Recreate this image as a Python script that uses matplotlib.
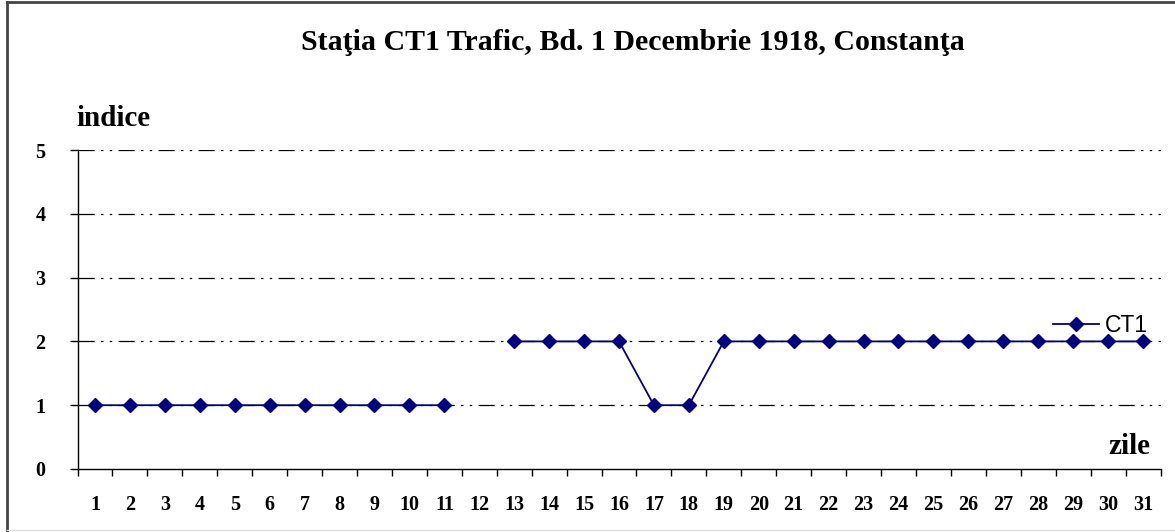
import numpy as np
import matplotlib.pyplot as plt
from matplotlib.lines import Line2D

days = np.arange(1, 32)
ct1 = [1, 1, 1, 1, 1, 1, 1, 1, 1, 1, 1, np.nan,
       2, 2, 2, 2, 1, 1, 2, 2, 2, 2, 2, 2, 2, 2, 2, 2, 2, 2, 2]
yticks = [0, 1, 2, 3, 4, 5]

serif = 'Liberation Serif'
navy = '#000080'

fig = plt.figure(figsize=(11.75, 5.32), dpi=100)
ax = fig.add_axes([77.5 / 1175, 1 - 469 / 532, 1083 / 1175, 319 / 532])

# grid lines (dash-dot-dot)
for v in yticks[1:]:
    ax.axhline(v, color='black', lw=0.9, dashes=(13, 5, 2, 5, 2, 5), zorder=1)

ax.plot(days, ct1, color=navy, lw=1.3, marker='D', markersize=7.5,
        markerfacecolor=navy, markeredgecolor=navy, zorder=3, label='CT1')

ax.set_xlim(0.5, 31.5)
ax.set_ylim(0, 5)
ax.set_xticks(np.arange(0.5, 32, 1))
ax.set_xticklabels([])
ax.set_xticks(days, minor=True)
ax.set_xticklabels([str(d) for d in days], minor=True, fontfamily=serif,
                   fontweight='bold', fontsize=14.5)
ax.tick_params(axis='x', which='major', length=5, width=1, direction='out')
ax.tick_params(axis='x', which='minor', length=0, pad=19)
ax.set_yticks(yticks)
ax.set_yticklabels([str(v) for v in yticks], fontfamily=serif,
                   fontweight='bold', fontsize=14.5)
ax.tick_params(axis='y', length=6, width=1, direction='out', pad=17)

for s in ['top', 'right']:
    ax.spines[s].set_visible(False)
ax.spines['left'].set_linewidth(1)
ax.spines['bottom'].set_linewidth(1)

fig.text(633 / 1175, 1 - 42 / 532, 'Staţia CT1 Trafic, Bd. 1 Decembrie 1918, Constanţa',
         ha='center', va='center', fontfamily=serif, fontweight='bold', fontsize=21.5)
fig.text(76 / 1175, 1 - 118 / 532, 'indice', ha='left', va='center',
         fontfamily=serif, fontweight='bold', fontsize=21)
fig.text(1150 / 1175, 1 - 447 / 532, 'zile', ha='right', va='center',
         fontfamily=serif, fontweight='bold', fontsize=21)

ax.legend(loc='center left', bbox_to_anchor=((1053 - 77.5) / 1083, (469 - 326) / 319),
          frameon=False, handlelength=2.0, handletextpad=0.25, borderpad=0,
          borderaxespad=0, prop={'family': 'Liberation Sans', 'size': 16.5})

# chart border
fig.add_artist(Line2D([7 / 1175, 7 / 1175], [0, 1 - 2 / 532], color='#444444', lw=2))
fig.add_artist(Line2D([7 / 1175, 1], [1 - 2 / 532, 1 - 2 / 532], color='#444444', lw=2))
fig.add_artist(Line2D([7 / 1175, 1], [2 / 532, 2 / 532], color='#dddddd', lw=1))

fig.savefig('out.png', dpi=100)
